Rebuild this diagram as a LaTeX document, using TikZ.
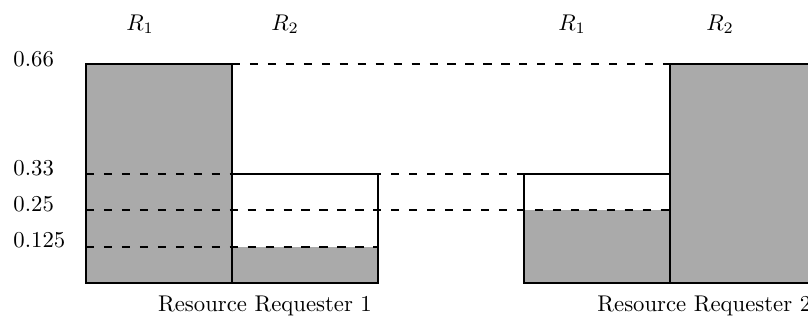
\documentclass[tikz,border=0pt]{standalone}
\usetikzlibrary{positioning}
\definecolor{usedgray}{HTML}{AAAAAA}
\begin{document}
\begin{tikzpicture}[x=0.44pt, y=-0.44pt,
    used/.style={fill=usedgray},
    bar/.style={draw=black, line width=0.5pt},
    level/.style={dash pattern=on 3.6pt off 4.3pt, line width=0.5pt},
    lvl/.style={anchor=west, inner sep=0pt},
    res/.style={inner sep=0pt},
]
\useasboundingbox (0,0) rectangle (808,326);
\clip (0,0) rectangle (808,326);
% requester 1
\fill[used] (86,64) rectangle (232,283);
\fill[used] (232,247) rectangle (378,283);
\draw[bar] (86,64) rectangle (232,283);
\draw[bar] (232,174) rectangle (378,283);
% requester 2
\fill[used] (524,210) rectangle (670,283);
\fill[used] (670,64) rectangle (830,283);
\draw[bar] (524,174) rectangle (670,283);
\draw[bar] (670,64) rectangle (830,283);
% levels
\draw[level] (232,64) -- (670,64);
\draw[level] (86,174) -- (670,174);
\draw[level] (86,210) -- (670,210);
\draw[level] (86,247) -- (378,247);
% labels
\node[lvl] (l66) at (13,59) {0.66};
\node[lvl] (l33) at (13,168) {0.33};
\node[lvl] (l25) at (13,204) {0.25};
\node[lvl] (l125) at (13,240) {0.125};
\node[res] (r1a) at (140,24) {$R_1$};
\node[res] (r2a) at (285,24) {$R_2$};
\node[res] (r1b) at (572,24) {$R_1$};
\node[res] (r2b) at (720,24) {$R_2$};
\node[res] (req1) at (265,306) {Resource Requester 1};
\node[res, anchor=west] (req2) at (597,306) {Resource Requester 2};
\end{tikzpicture}
\end{document}
